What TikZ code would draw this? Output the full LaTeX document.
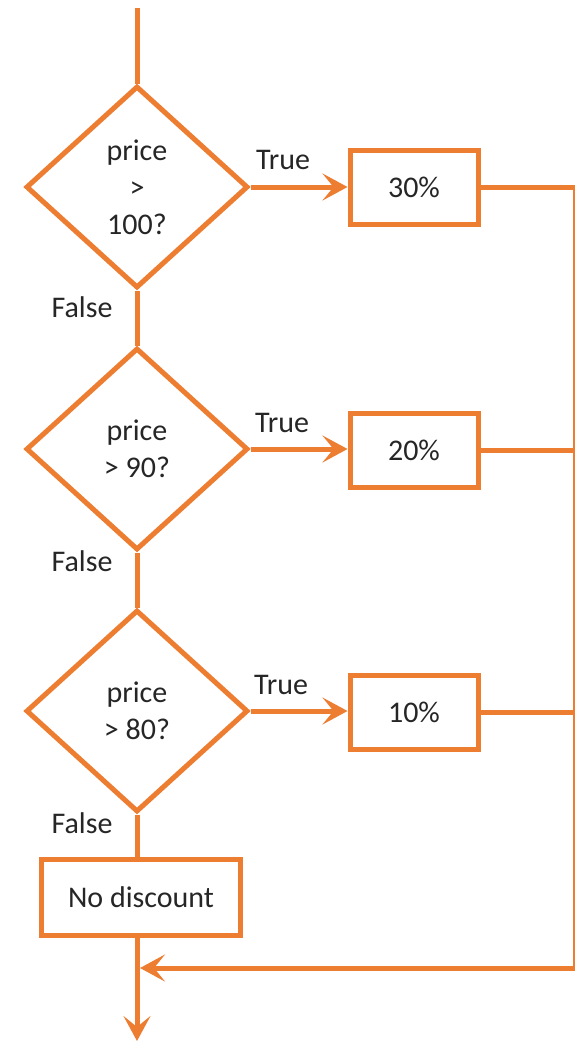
\documentclass[tikz,border=0pt]{standalone}
\usepackage{fontspec}
\setmainfont{Carlito}
\usetikzlibrary{shapes.geometric,arrows.meta}
\definecolor{flow}{RGB}{237,125,49}
\definecolor{ink}{RGB}{38,38,38}
\tikzset{
  x=1pt,y=-1pt,
  every node/.style={text=ink,font=\fontsize{30}{37}\selectfont},
  conn/.style={draw=flow,line width=5pt},
  arr/.style={conn,-{Stealth[length=25pt,width=27pt,inset=11pt]}},
  decision/.style={shape=diamond,draw=flow,line width=5pt,fill=white,
    minimum width=222pt,minimum height=202pt,inner sep=0pt,align=center},
  action/.style={draw=flow,line width=5pt,fill=white,inner sep=0pt,
    minimum width=128pt,minimum height=74pt},
  tag/.style={inner sep=0pt}
}
\begin{document}
\begin{tikzpicture}
\useasboundingbox (0,0) rectangle (574,1042);

% decisions
\node[decision] (d1) at (137,187) {price\\>\\100?};
\node[decision] (d2) at (137,449) {price\\> 90?};
\node[decision] (d3) at (137,711) {price\\> 80?};

% outcomes
\node[action] (b30) at (414,187) {30\%};
\node[action] (b20) at (414,450) {20\%};
\node[action] (b10) at (414,712) {10\%};
\node[action,minimum width=199pt,minimum height=76pt] (nd) at (141,897) {No discount};

% branch labels
\node[tag] (t1) at (283,160) {True};
\node[tag] (t2) at (282,423) {True};
\node[tag] (t3) at (281,685) {True};
\node[tag] (f1) at (82,307) {False};
\node[tag] (f2) at (82,561) {False};
\node[tag] (f3) at (82,823) {False};

% helper points
\coordinate (start) at (137,8);
\coordinate (corner) at (575,968);
\coordinate (join) at (140,968);
\coordinate (finish) at (137,1041);

% main spine
\draw[conn] (start) -- (d1.north);
\draw[conn] (d1.south) -- (d2.north);
\draw[conn] (d2.south) -- (d3.north);
\draw[conn] (d3.south) -- (d3.south |- nd.north);
\draw[arr] (d3.south |- nd.south) -- (finish);

% true branches
\draw[arr] (d1.east) -- (b30.west);
\draw[arr] (d2.east) -- (d2.east -| b20.west);
\draw[arr] (d3.east) -- (d3.east -| b10.west);

% return line on the right
\draw[arr] (b30.east) -| (corner) -- (join);
\draw[conn] (b20.east) -- (b20.east -| corner);
\draw[conn] (b10.east) -- (b10.east -| corner);
\end{tikzpicture}
\end{document}
